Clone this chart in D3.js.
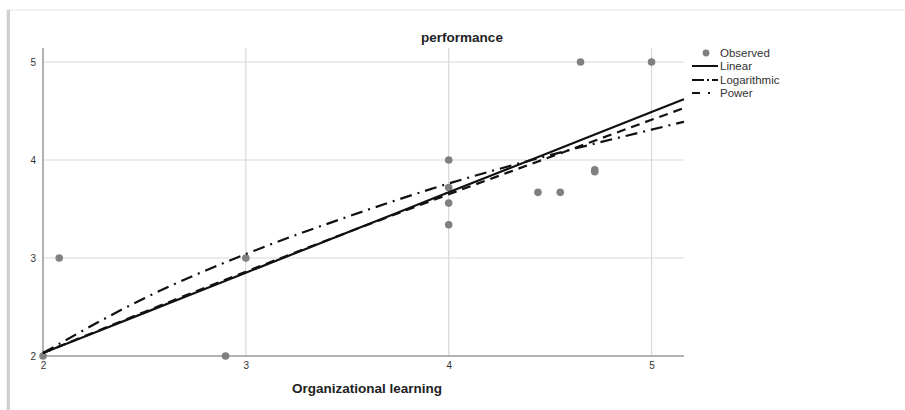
<!DOCTYPE html>
<html>
<head>
<meta charset="utf-8">
<script src="https://cdn.jsdelivr.net/npm/d3@7"></script>
<style>
  body { margin: 0; background: #fff; }
  text { font-family: Arial, "Liberation Sans", sans-serif; }
</style>
</head>
<body>
<div id="chart"></div>
<script>
// observed points (Organizational learning, performance)
var obsX = [2, 2.08, 2.9, 3, 4, 4, 4, 4, 4.44, 4.55, 4.72, 4.72, 4.65, 5]
var obsY = [2, 3, 2, 3, 4, 3.72, 3.56, 3.34, 3.67, 3.67, 3.9, 3.88, 5, 5]

// fitted curves
var fitX = [2, 2.5, 3, 3.5, 4, 4.5, 5, 5.16]
var linearY = [2.03, 2.44, 2.85, 3.26, 3.67, 4.08, 4.49, 4.62]
var logY = [2.03, 2.59, 3.04, 3.42, 3.76, 4.05, 4.31, 4.39]
var powerY = [2.03, 2.45, 2.86, 3.26, 3.65, 4.03, 4.41, 4.53]

var xTicks = [2, 3, 4, 5]
var yTicks = [2, 3, 4, 5]
var legendLabels = ["Observed", "Linear", "Logarithmic", "Power"]

var W = 905, H = 410
var svg = d3.select("#chart").append("svg").attr("width", W).attr("height", H)

// panel frame with faint shadow
svg.append("rect").attr("x", 6).attr("y", 9).attr("width", W).attr("height", H)
  .attr("fill", "#f2f2f2")
svg.append("rect").attr("x", 7).attr("y", 10).attr("width", 3).attr("height", H)
  .attr("fill", "#d0d0d0")
svg.append("rect").attr("x", 10).attr("y", 11).attr("width", W).attr("height", H)
  .attr("fill", "#fff")

var x = d3.scaleLinear().domain([2, 5.16]).range([43, 684])
var y = d3.scaleLinear().domain([2, 5]).range([356, 62])

var g = svg.append("g")

// grid
g.selectAll(".gx").data(xTicks.slice(1)).enter().append("line")
  .attr("x1", d => x(d)).attr("x2", d => x(d))
  .attr("y1", 48).attr("y2", 356)
  .attr("stroke", "#d9d9d9").attr("stroke-width", 1.2)
g.selectAll(".gy").data(yTicks.slice(1)).enter().append("line")
  .attr("x1", 43).attr("x2", 684)
  .attr("y1", d => y(d)).attr("y2", d => y(d))
  .attr("stroke", "#d9d9d9").attr("stroke-width", 1.2)

// axes
var xAxis = g.append("g").attr("transform", "translate(0,356)")
  .call(d3.axisBottom(x).tickValues(xTicks).tickSize(0).tickPadding(6).tickFormat(d3.format("d")))
var yAxis = g.append("g").attr("transform", "translate(43,0)")
  .call(d3.axisLeft(y).tickValues(yTicks).tickSize(0).tickPadding(7).tickFormat(d3.format("d")))
xAxis.select(".domain").attr("d", "M43,0H684").attr("stroke", "#999").attr("stroke-width", 1.5)
yAxis.select(".domain").attr("d", "M0,48V356").attr("stroke", "#999").attr("stroke-width", 1.5)
svg.selectAll(".tick text").attr("font-size", 10).attr("fill", "#333")
  .attr("font-family", "Arial, 'Liberation Sans', sans-serif")

// observed
var pts = d3.range(obsX.length).map(i => ({x: obsX[i], y: obsY[i]}))
g.selectAll(".pt").data(pts).enter().append("circle")
  .attr("cx", d => x(d.x)).attr("cy", d => y(d.y)).attr("r", 3.8)
  .attr("fill", "#808080")

// fits
var line = d3.line().x(d => x(d[0])).y(d => y(d[1])).curve(d3.curveMonotoneX)
var fits = [
  {vals: linearY, dash: null},
  {vals: logY, dash: "12,6,2,6"},
  {vals: powerY, dash: "9,6"}
]
fits.forEach(function(f) {
  g.append("path")
    .datum(fitX.map((v, i) => [v, f.vals[i]]))
    .attr("d", line)
    .attr("fill", "none")
    .attr("stroke", "#111")
    .attr("stroke-width", 2.2)
    .attr("stroke-dasharray", f.dash)
})

// title + axis label
svg.append("text").attr("x", 462).attr("y", 42).attr("text-anchor", "middle")
  .attr("font-size", 13.5).attr("font-weight", "bold").attr("fill", "#222").text("performance")
svg.append("text").attr("x", 367).attr("y", 393).attr("text-anchor", "middle")
  .attr("font-size", 13.5).attr("font-weight", "bold").attr("fill", "#222").text("Organizational learning")

// legend
var lg = svg.append("g")
var rowY = [53, 66, 80, 93]
lg.append("circle").attr("cx", 706).attr("cy", rowY[0]).attr("r", 3.4).attr("fill", "#808080")
var legDash = [null, "12,3,2,3", "8,8,2,8"]
legDash.forEach(function(d, i) {
  lg.append("line").attr("x1", 692).attr("x2", 718)
    .attr("y1", rowY[i + 1]).attr("y2", rowY[i + 1])
    .attr("stroke", "#111").attr("stroke-width", 2).attr("stroke-dasharray", d)
})
lg.selectAll(".lt").data(legendLabels).enter().append("text")
  .attr("x", 720).attr("y", (d, i) => rowY[i] + 4)
  .attr("font-size", 11.5).attr("fill", "#333").text(d => d)
</script>
</body>
</html>
